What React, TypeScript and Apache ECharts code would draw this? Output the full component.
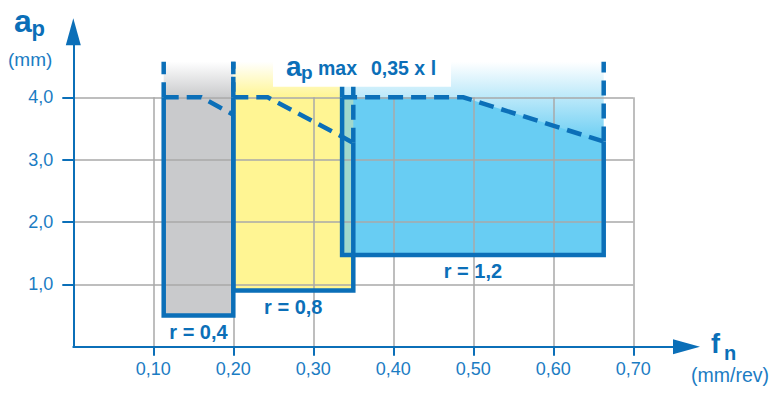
import React, { useEffect, useRef } from 'react';
import * as echarts from 'echarts';

// ---- data ----
const inserts = ['r = 0,4', 'r = 0,8', 'r = 1,2'];
const fnStart = [0.113, 0.2, 0.336];
const fnEnd = [0.2, 0.35, 0.663];
const apLow = [0.5, 0.9, 1.47];
const apFull = [4.0, 4.0, 4.0];
const fnKnee = [0.16, 0.243, 0.4875];
const apAtEnd = [3.72, 3.27, 3.29];
const apHeader = 4.57;
const xTicks = [0.1, 0.2, 0.3, 0.4, 0.5, 0.6, 0.7];
const yTicks = [1, 2, 3, 4];

// ---- styles ----
const BLUE = '#0b6fb8';
const LABEL_BLUE = '#1b7cc3';
const GRID = '#a9a9a9';
const fillColors = ['#c9cacc', '#fff593', '#68cdf3'];
const solidToTop = [true, true, false];
const OVERLAP = '#a2d8cc';
const FONT = '"Liberation Sans", Arial, Helvetica, sans-serif';

const X0 = 73.3; // pixel of fn = 0
const Y0 = 346.7; // pixel of ap = 0
const PX_X = 800; // px per 1 mm/rev
const PX_Y = 62.36; // px per 1 mm
const W = 779;
const H = 399;

function txt(x: number, y: number, text: string, size: number, bold: boolean, color: string, align = 'left') {
  return {
    type: 'text',
    x,
    y,
    z: 101,
    style: {
      text,
      fill: color,
      fontSize: size,
      fontWeight: bold ? 'bold' : 'normal',
      fontFamily: FONT,
      align,
      textAlign: align,
      verticalAlign: 'middle',
      textVerticalAlign: 'middle',
    },
  };
}

export default function App() {
  const ref = useRef<HTMLDivElement>(null);
  useEffect(() => {
    if (!ref.current) return;
    const chart = echarts.init(ref.current, null, { renderer: 'svg' });

    const gridTop0 = 18.3 + 13.5;
    const yMax0 = (Y0 - gridTop0) / PX_Y;
    const xRight0 = 686.5;
    const xMax0 = (xRight0 - X0) / PX_X;

    const renderFill = (params: any, api: any) => {
      const i = api.value(2);
      const xs = fnStart[i];
      const xe = fnEnd[i];
      const gradBottom = solidToTop[i] ? apFull[i] : Math.min(apAtEnd[i], apFull[i]);
      const tl = api.coord([xs, apHeader]);
      const gbr = api.coord([xe, gradBottom]);
      const children: any[] = [
        {
          type: 'rect',
          shape: { x: tl[0], y: tl[1], width: gbr[0] - tl[0], height: gbr[1] - tl[1] },
          style: {
            fill: new echarts.graphic.LinearGradient(0, 0, 0, 1, [
              { offset: 0, color: '#ffffff' },
              { offset: 1, color: fillColors[i] },
            ]),
          },
        },
      ];
      if (solidToTop[i]) {
        const a = api.coord([xs, apFull[i]]);
        const b = api.coord([xe, apLow[i]]);
        children.push({
          type: 'rect',
          shape: { x: a[0], y: a[1], width: b[0] - a[0], height: b[1] - a[1] },
          style: { fill: fillColors[i] },
        });
      } else {
        children.push({
          type: 'polygon',
          shape: {
            points: [
              api.coord([xs, apLow[i]]),
              api.coord([xs, apFull[i]]),
              api.coord([fnKnee[i], apFull[i]]),
              api.coord([xe, apAtEnd[i]]),
              api.coord([xe, apLow[i]]),
            ],
          },
          style: { fill: fillColors[i] },
        });
      }
      return { type: 'group', children };
    };

    const overlapData: number[][] = [];
    for (let i = 0; i < inserts.length - 1; i++) {
      const x0 = fnStart[i + 1];
      const x1 = fnEnd[i];
      if (x1 > x0) overlapData.push([x0, Math.max(apLow[i], apLow[i + 1]), i]);
    }
    const renderOverlap = (params: any, api: any) => {
      const i = api.value(2);
      const a = api.coord([fnStart[i + 1], Math.min(apFull[i], apFull[i + 1])]);
      const b = api.coord([fnEnd[i], Math.max(apLow[i], apLow[i + 1])]);
      return {
        type: 'rect',
        shape: { x: a[0], y: a[1], width: b[0] - a[0], height: b[1] - a[1] },
        style: { fill: OVERLAP },
      };
    };

    const renderBorder = (params: any, api: any) => {
      const i = api.value(2);
      const xs = fnStart[i];
      const xe = fnEnd[i];
      const a = api.coord([xs, apFull[i]]);
      const k = api.coord([fnKnee[i], apFull[i]]);
      const e = api.coord([xe, apAtEnd[i]]);
      const bl = api.coord([xs, apLow[i]]);
      const br = api.coord([xe, apLow[i]]);
      const hl = api.coord([xs, apHeader]);
      const hr = api.coord([xe, apHeader]);
      const solid = { stroke: BLUE, lineWidth: 4.5, fill: null, lineJoin: 'miter' };
      const dashed = { stroke: BLUE, lineWidth: 4.5, fill: null, lineDash: [15, 8], lineCap: 'butt' };
      return {
        type: 'group',
        children: [
          { type: 'polyline', shape: { points: [e, br, bl, a] }, style: solid },
          { type: 'polyline', shape: { points: [a, k, e] }, style: dashed },
          { type: 'line', shape: { x1: a[0], y1: a[1], x2: hl[0], y2: hl[1] }, style: dashed },
          { type: 'line', shape: { x1: e[0], y1: e[1], x2: hr[0], y2: hr[1] }, style: dashed },
        ],
      };
    };

    const renderLabel = (params: any, api: any) => {
      const i = api.value(2);
      const p = api.coord([(fnStart[i] + fnEnd[i]) / 2, apLow[i]]);
      return {
        type: 'text',
        style: {
          text: inserts[i],
          x: p[0],
          y: p[1] + 16,
          fill: BLUE,
          fontSize: 20,
          fontWeight: 'bold',
          fontFamily: FONT,
          align: 'center',
          textAlign: 'center',
          verticalAlign: 'middle',
          textVerticalAlign: 'middle',
        },
      };
    };

    const insertData = inserts.map((_, i) => [fnStart[i], apLow[i], i]);

    const option: any = {
      animation: false,
      backgroundColor: '#ffffff',
      grid: [
        { left: X0, right: W - xRight0, top: gridTop0, bottom: H - Y0, containLabel: false },
        { left: X0, right: W - (X0 + 0.7 * PX_X), top: Y0 - 4 * PX_Y, bottom: H - Y0, containLabel: false },
      ],
      xAxis: [
        {
          gridIndex: 0,
          type: 'value',
          min: 0,
          max: xMax0,
          z: 5,
          axisLine: {
            show: true,
            lineStyle: { color: BLUE, width: 2 },
            symbol: ['none', 'triangle'],
            symbolSize: [15, 27],
          },
          axisTick: {
            show: true,
            customValues: xTicks,
            length: 9,
            lineStyle: { color: BLUE, width: 2 },
          },
          axisLabel: {
            show: true,
            customValues: xTicks,
            margin: 13,
            color: LABEL_BLUE,
            fontSize: 18,
            fontFamily: FONT,
            formatter: (v: number) => v.toFixed(2).replace('.', ','),
          },
          splitLine: { show: false },
        },
        {
          gridIndex: 1,
          type: 'value',
          min: 0,
          max: 0.7,
          interval: 0.1,
          z: 3,
          axisLine: { show: false },
          axisTick: { show: false },
          axisLabel: { show: false },
          splitLine: { show: true, lineStyle: { color: GRID, width: 1.5 } },
        },
      ],
      yAxis: [
        {
          gridIndex: 0,
          type: 'value',
          min: 0,
          max: yMax0,
          z: 5,
          axisLine: {
            show: true,
            lineStyle: { color: BLUE, width: 2 },
            symbol: ['none', 'triangle'],
            symbolSize: [15, 27],
          },
          axisTick: {
            show: true,
            customValues: yTicks,
            length: 11,
            lineStyle: { color: BLUE, width: 2 },
          },
          axisLabel: {
            show: true,
            customValues: yTicks,
            margin: 20,
            color: LABEL_BLUE,
            fontSize: 18,
            fontFamily: FONT,
            formatter: (v: number) => v.toFixed(1).replace('.', ','),
          },
          splitLine: { show: false },
        },
        {
          gridIndex: 1,
          type: 'value',
          min: 0,
          max: 4,
          interval: 1,
          z: 3,
          axisLine: { show: false },
          axisTick: { show: false },
          axisLabel: { show: false },
          splitLine: { show: true, lineStyle: { color: GRID, width: 1.5 } },
        },
      ],
      series: [
        {
          type: 'custom',
          name: 'fills',
          xAxisIndex: 0,
          yAxisIndex: 0,
          z: 1,
          silent: true,
          renderItem: renderFill,
          data: insertData,
        },
        {
          type: 'custom',
          name: 'overlap',
          xAxisIndex: 0,
          yAxisIndex: 0,
          z: 2,
          silent: true,
          renderItem: renderOverlap,
          data: overlapData,
        },
        {
          type: 'custom',
          name: 'borders',
          xAxisIndex: 0,
          yAxisIndex: 0,
          z: 4,
          silent: true,
          renderItem: renderBorder,
          data: insertData,
        },
        {
          type: 'custom',
          name: 'labels',
          xAxisIndex: 0,
          yAxisIndex: 0,
          z: 4,
          silent: true,
          renderItem: renderLabel,
          data: insertData,
        },
      ],
      graphic: [
        // white box behind the a_p max label
        {
          type: 'rect',
          z: 100,
          shape: { x: 273, y: 46, width: 178, height: 40.7 },
          style: { fill: '#ffffff' },
        },
        txt(286, 66, 'a', 28, true, BLUE),
        txt(301, 72.5, 'p', 19, true, BLUE),
        txt(318, 68.3, 'max', 19.5, true, BLUE),
        txt(371, 68.3, '0,35 x l', 19.5, true, BLUE),
        // y axis title
        txt(14, 20.5, 'a', 32, true, BLUE),
        txt(31.5, 28.7, 'p', 22, true, BLUE),
        txt(8, 59.5, '(mm)', 19, false, LABEL_BLUE),
        // x axis title
        txt(711, 343.5, 'f', 27, true, BLUE),
        txt(724, 353, 'n', 20, true, BLUE),
        txt(691, 374.5, '(mm/rev)', 19.5, false, LABEL_BLUE),
      ],
    };

    chart.setOption(option);
    return () => chart.dispose();
  }, []);

  return (
    <div
      ref={ref}
      style={{ position: 'absolute', left: 0, top: 0, width: W, height: H, background: '#fff' }}
    />
  );
}
